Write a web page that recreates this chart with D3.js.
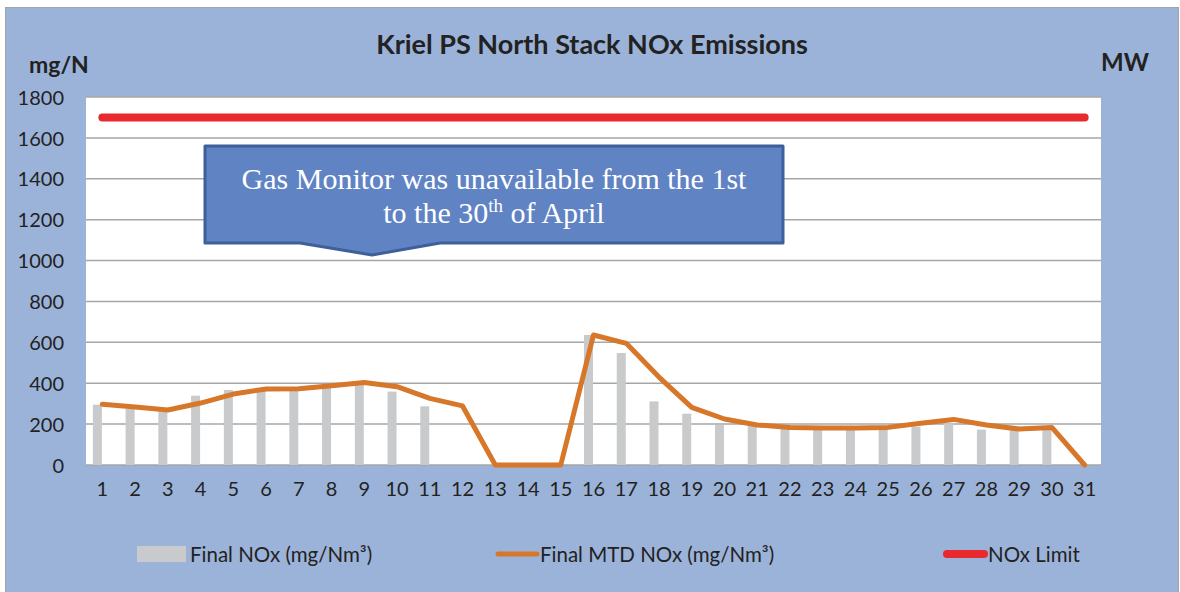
<!DOCTYPE html>
<html>
<head>
<meta charset="utf-8">
<script src="https://cdn.jsdelivr.net/npm/d3@7"></script>
<style>
  body { margin: 0; background: #fff; }
  svg { display: block; }
</style>
</head>
<body>
<svg id="svg1" width="1180" height="592"></svg>
<script>
var days = d3.range(1, 32).map(String);
var finalNOx = [295, 274, 266, 339, 367, 375, 375, 388, 399, 359, 287, null, null, null, null,
    636, 548, 311, 251, 196, 190, 182, 182, 180, 182, 187, 204, 173, 182, 182, null];
var mtdNOx = [297, 284, 269, 303, 347, 372, 373, 388, 404, 383, 326, 289, 0, 0, 0,
    636, 595, 430, 282, 225, 196, 184, 181, 181, 184, 204, 223, 196, 176, 184, 0];
var noxLimit = days.map(function () { return 1700; });
var yTicks = [0, 200, 400, 600, 800, 1000, 1200, 1400, 1600, 1800];

var sansFont = 'Lato, "Open Sans", sans-serif';

var svg = d3.select('#svg1');

// chart background
svg.append('rect')
    .attr('x', 5.5).attr('y', 7.5)
    .attr('width', 1173).attr('height', 600)
    .attr('fill', '#9cb3d9')
    .attr('stroke', '#a3a3a3')
    .attr('stroke-width', 1);

var plotLeft = 86, plotRight = 1101, plotTop = 97, plotBottom = 465;

var x = d3.scaleBand()
    .domain(days)
    .range([plotLeft, plotRight])
    .padding(0);

var y = d3.scaleLinear()
    .domain([0, 1800])
    .range([plotBottom, plotTop]);

function cx(d) { return x(d) + x.bandwidth() / 2; }

svg.append('rect')
    .attr('x', plotLeft).attr('y', plotTop)
    .attr('width', plotRight - plotLeft).attr('height', plotBottom - plotTop)
    .attr('fill', '#fff');

// gridlines
svg.append('g').selectAll('line')
    .data(yTicks)
    .enter()
    .append('line')
    .attr('x1', plotLeft).attr('x2', plotRight)
    .attr('y1', function (d) { return y(d); })
    .attr('y2', function (d) { return y(d); })
    .attr('stroke', '#a6a6a6')
    .attr('stroke-width', 1.5);

// y axis
var yAxis = svg.append('g')
    .attr('transform', 'translate(' + 64 + ',0)')
    .call(d3.axisLeft(y).tickValues(yTicks).tickFormat(d3.format('d')).tickSize(0).tickPadding(0));
yAxis.select('.domain').remove();
yAxis.selectAll('text')
    .attr('font-family', sansFont)
    .attr('font-size', 20)
    .attr('fill', '#222')
    .attr('dy', '0.36em');

// x axis
var xAxis = svg.append('g')
    .attr('transform', 'translate(0,' + (plotBottom + 17) + ')')
    .call(d3.axisBottom(x).tickSize(0).tickPadding(0));
xAxis.select('.domain').remove();
xAxis.selectAll('text')
    .attr('font-family', sansFont)
    .attr('font-size', 20)
    .attr('fill', '#222');

// bars
svg.append('g').selectAll('rect')
    .data(days.map(function (d, i) { return { day: d, v: finalNOx[i] }; })
        .filter(function (d) { return d.v !== null; }))
    .enter()
    .append('rect')
    .attr('x', function (d) { return cx(d.day) - 9.5; })
    .attr('y', function (d) { return y(d.v); })
    .attr('width', 9)
    .attr('height', function (d) { return y(0) - y(d.v); })
    .attr('fill', '#c9cacc');

// limit line
var line = d3.line()
    .x(function (d) { return cx(d.day); })
    .y(function (d) { return y(d.v); });

svg.append('path')
    .datum(days.map(function (d, i) { return { day: d, v: noxLimit[i] }; }))
    .attr('d', line)
    .attr('fill', 'none')
    .attr('stroke', '#e8292d')
    .attr('stroke-width', 8)
    .attr('stroke-linecap', 'round');

// MTD line
svg.append('path')
    .datum(days.map(function (d, i) { return { day: d, v: mtdNOx[i] }; }))
    .attr('d', line)
    .attr('fill', 'none')
    .attr('stroke', '#d7772a')
    .attr('stroke-width', 5)
    .attr('stroke-linejoin', 'round')
    .attr('stroke-linecap', 'round');

// titles
svg.append('text')
    .attr('x', 592).attr('y', 54)
    .attr('text-anchor', 'middle')
    .attr('font-family', sansFont)
    .attr('font-weight', 'bold')
    .attr('font-size', 27)
    .attr('fill', '#222')
    .text('Kriel PS North Stack NOx Emissions');

svg.append('text')
    .attr('x', 29).attr('y', 73)
    .attr('font-family', sansFont)
    .attr('font-weight', 'bold')
    .attr('font-size', 23)
    .attr('fill', '#222')
    .text('mg/N');

svg.append('text')
    .attr('x', 1101).attr('y', 71)
    .attr('font-family', sansFont)
    .attr('font-weight', 'bold')
    .attr('font-size', 24)
    .attr('fill', '#222')
    .text('MW');

// callout
var callout = svg.append('g');
callout.append('path')
    .attr('d', 'M205,146 H783 V243 H440 L372,255 L300,243 H205 Z')
    .attr('fill', '#6083c4')
    .attr('stroke', '#3f5f9b')
    .attr('stroke-width', 3)
    .attr('stroke-linejoin', 'round');

callout.append('text')
    .attr('x', 494).attr('y', 189)
    .attr('text-anchor', 'middle')
    .attr('font-family', '"Liberation Serif", "Times New Roman", serif')
    .attr('font-size', 30)
    .attr('fill', '#fff')
    .text('Gas Monitor was unavailable from the 1st');

var t2 = callout.append('text')
    .attr('x', 494).attr('y', 223)
    .attr('text-anchor', 'middle')
    .attr('font-family', '"Liberation Serif", "Times New Roman", serif')
    .attr('font-size', 30)
    .attr('fill', '#fff');
t2.append('tspan').text('to the 30');
t2.append('tspan').attr('font-size', 19).attr('dy', -11).text('th');
t2.append('tspan').attr('dy', 11).text(' of April');

// legend
var legend = svg.append('g').attr('font-family', sansFont).attr('font-size', 20.5).attr('fill', '#222');
legend.append('rect')
    .attr('x', 137).attr('y', 546)
    .attr('width', 49).attr('height', 16)
    .attr('fill', '#c9cacc');
legend.append('text').attr('x', 190).attr('y', 562).text('Final NOx (mg/Nm³)');

legend.append('line')
    .attr('x1', 498).attr('x2', 537).attr('y1', 554).attr('y2', 554)
    .attr('stroke', '#d7772a').attr('stroke-width', 5).attr('stroke-linecap', 'round');
legend.append('text').attr('x', 540).attr('y', 562).text('Final MTD NOx (mg/Nm³)');

legend.append('line')
    .attr('x1', 947).attr('x2', 984).attr('y1', 554).attr('y2', 554)
    .attr('stroke', '#e8292d').attr('stroke-width', 8).attr('stroke-linecap', 'round');
legend.append('text').attr('x', 988).attr('y', 562).text('NOx Limit');
</script>
</body>
</html>
